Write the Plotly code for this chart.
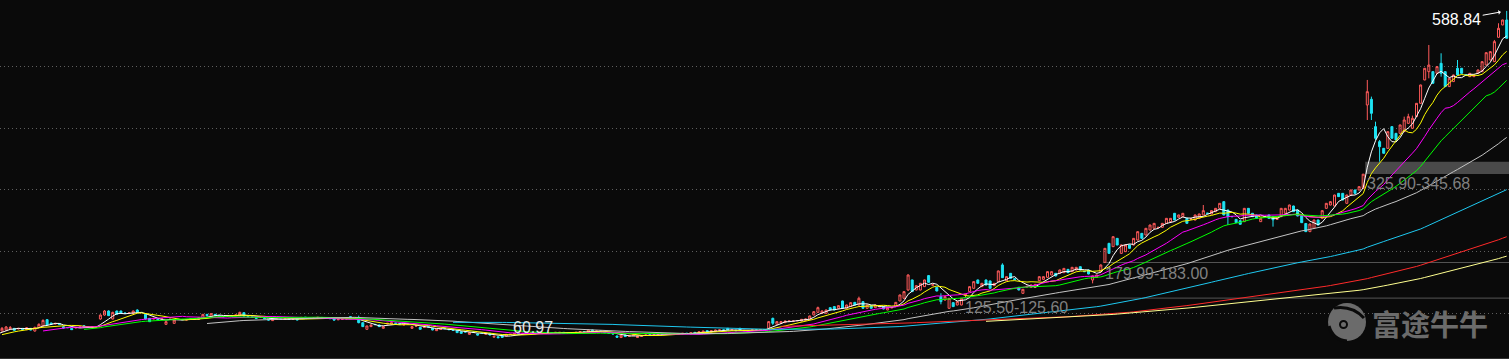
import pandas as pd
import plotly.graph_objects as go

# ---------------- data (prices) ----------------
PRE_CLOSE = [60.0, 62.0, 63.0, 65.0, 64.0, 66.0, 68.0, 70.0, 72.0]

OPEN = [
    72.5, 74.1, 76.3, 76.8, 75.8, 76.8, 74.7, 76.8, 72.5, 78.4,
    80.6, 90.8, 85.4, 83.8, 84.4, 79.5, 78.4, 76.8, 77.4, 78.4,
    81.1, 79.0, 77.9, 79.0, 91.9, 98.3, 104.8, 91.9, 104.8, 104.8,
    101.6, 101.0, 101.0, 106.4, 102.6, 99.4, 93.0, 91.9, 91.9, 91.7,
    83.3, 91.3, 84.9, 91.3, 91.3, 90.3, 91.9, 91.9, 91.3, 93.0,
    99.4, 95.1, 99.4, 97.3, 96.2, 97.3, 96.2, 97.8, 97.3, 102.1,
    96.2, 95.1, 94.0, 94.4, 93.5, 90.8, 89.3, 91.2, 91.4, 91.8,
    91.5, 91.4, 92.5, 92.5, 94.6, 94.0, 93.6, 93.8, 94.4, 93.4,
    92.8, 91.9, 90.6, 91.5, 92.0, 95.7, 94.0, 93.0, 86.0, 75.3,
    79.6, 83.3, 82.3, 76.9, 83.9, 83.9, 85.2, 84.2, 82.3, 83.3,
    76.9, 80.5, 78.5, 78.3, 79.6, 76.9, 73.1, 75.1, 76.9, 75.3,
    74.2, 73.1, 71.5, 71.5, 67.2, 71.0, 67.8, 69.0, 67.2, 68.8,
    62.6, 63.2, 64.5, 64.5, 67.0, 67.8, 68.8, 68.3, 69.4, 68.8,
    68.9, 68.8, 69.4, 69.0, 69.9, 69.9, 68.8, 70.4, 69.0, 69.9,
    69.8, 69.9, 71.5, 71.0, 74.2, 71.8, 72.6, 71.5, 69.5, 68.5,
    64.5, 62.0, 66.1, 64.0, 65.5, 62.0, 64.0, 65.6, 66.1, 66.0,
    66.6, 67.2, 67.1, 67.3, 67.2, 67.4, 68.0, 68.8, 67.8, 70.4,
    68.8, 69.9, 73.1, 71.0, 71.5, 74.0, 74.2, 76.9, 74.0, 73.8,
    76.9, 73.6, 73.0, 74.0, 74.2, 74.2, 74.8, 76.9, 93.0, 83.4,
    85.0, 86.0, 88.5, 88.2, 89.1, 88.7, 89.8, 91.4, 98.4, 102.7,
    101.1, 101.1, 110.2, 111.9, 109.2, 121.0, 109.2, 111.9, 118.8, 114.5,
    119.9, 109.2, 113.5, 110.2, 111.7, 111.9, 106.5, 110.0, 111.9, 121.0,
    125.3, 138.7, 154.9, 138.7, 138.7, 144.1, 161.9, 146.5, 143.0, 128.0,
    122.6, 109.2, 118.3, 114.5, 114.5, 130.7, 136.1, 141.4, 154.9, 144.1,
    154.9, 153.3, 145.7, 152.2, 179.1, 153.7, 165.6, 157.0, 143.0, 133.3,
    143.5, 143.0, 143.0, 153.7, 155.9, 159.1, 162.9, 165.6, 165.6, 166.6,
    172.0, 168.3, 171.0, 176.3, 168.5, 171.0, 154.8, 159.1, 168.3, 183.4,
    214.0, 208.6, 222.0, 197.8, 200.5, 211.3, 211.3, 219.3, 230.1, 227.4,
    235.5, 238.2, 239.6, 239.8, 246.2, 248.9, 262.4, 255.9, 257.0, 254.3,
    253.0, 251.6, 254.3, 259.7, 262.5, 261.3, 265.0, 270.4, 281.2, 267.7,
    257.2, 252.7, 250.5, 248.9, 270.4, 262.4, 259.7, 248.9, 257.2, 259.7,
    257.0, 252.5, 257.0, 262.4, 267.7, 274.2, 267.7, 258.1, 246.0, 232.8,
    238.2, 251.6, 254.3, 270.4, 275.8, 274.2, 294.6, 294.6, 278.5, 291.9,
    300.0, 300.0, 302.7, 437.1, 446.3, 402.2, 378.0, 367.2, 367.2, 402.2,
    391.4, 391.4, 394.1, 407.5, 399.5, 418.3, 439.8, 477.5, 490.9, 490.9,
    488.2, 504.3, 490.9, 466.7, 474.8, 496.3, 496.3, 485.7, 482.8, 482.8,
    488.2, 490.9, 501.6, 509.7, 507.0, 546.3, 566.2, 574.2,
]

HIGH = [
    79.0, 80.6, 80.6, 77.4, 77.4, 77.4, 79.0, 77.4, 79.5, 84.9,
    91.3, 91.9, 86.0, 85.4, 84.9, 80.6, 78.9, 77.3, 78.9, 79.5,
    81.6, 79.5, 79.5, 80.0, 99.4, 106.4, 105.9, 103.7, 105.3, 105.3,
    102.1, 102.1, 105.3, 107.5, 103.1, 100.5, 93.5, 93.5, 92.4, 92.5,
    88.1, 92.0, 90.8, 91.8, 91.8, 91.3, 92.4, 92.9, 94.5, 100.0,
    100.0, 101.6, 99.9, 97.8, 96.7, 97.9, 97.2, 98.8, 103.7, 102.6,
    96.7, 95.6, 94.5, 95.1, 93.9, 91.2, 91.9, 91.9, 91.9, 92.4,
    91.9, 92.0, 93.0, 95.1, 95.1, 94.5, 94.2, 95.1, 94.9, 93.9,
    93.3, 92.4, 91.9, 92.4, 93.0, 96.2, 94.6, 97.3, 86.5, 81.2,
    82.8, 83.8, 82.8, 80.1, 85.5, 86.5, 85.5, 84.4, 83.3, 84.4,
    80.1, 81.2, 79.0, 79.0, 80.1, 77.4, 75.8, 75.8, 77.4, 75.8,
    74.7, 73.6, 72.0, 72.0, 70.4, 71.5, 68.3, 69.3, 69.3, 69.3,
    64.6, 63.8, 65.0, 67.7, 67.7, 69.3, 69.3, 69.3, 70.4, 69.9,
    69.3, 69.9, 69.9, 70.4, 70.4, 70.9, 70.9, 70.9, 70.4, 70.4,
    70.9, 72.0, 72.0, 74.7, 74.7, 73.1, 73.1, 72.0, 70.0, 69.0,
    65.0, 66.3, 66.6, 65.0, 66.6, 64.3, 65.0, 66.6, 66.6, 66.7,
    67.7, 67.7, 67.8, 67.8, 67.8, 68.3, 69.3, 69.3, 70.4, 70.9,
    72.0, 73.1, 73.6, 73.6, 74.7, 74.7, 74.7, 77.4, 74.7, 74.3,
    77.4, 74.1, 73.5, 74.7, 74.7, 75.3, 75.3, 88.7, 94.1, 88.2,
    88.2, 89.2, 89.2, 89.2, 89.8, 91.9, 92.5, 97.3, 104.3, 111.9,
    105.4, 107.0, 110.7, 112.4, 114.0, 121.5, 115.0, 118.8, 119.3, 128.0,
    120.4, 115.0, 114.0, 115.0, 112.5, 112.4, 110.7, 110.7, 119.3, 131.2,
    136.6, 164.0, 155.4, 146.2, 150.0, 155.4, 162.9, 147.5, 143.5, 133.4,
    128.5, 125.8, 118.8, 120.4, 125.5, 132.3, 144.6, 152.7, 155.4, 150.0,
    155.4, 153.8, 150.0, 170.0, 181.8, 160.7, 166.1, 157.5, 143.5, 140.3,
    145.1, 147.3, 148.3, 160.7, 160.7, 168.8, 168.8, 166.1, 171.5, 174.1,
    172.5, 175.8, 175.8, 176.8, 168.8, 171.5, 161.8, 163.4, 179.99, 206.4,
    214.5, 225.2, 222.5, 211.8, 211.8, 211.8, 222.5, 233.3, 230.6, 238.7,
    244.0, 246.7, 240.3, 246.7, 254.8, 254.8, 262.9, 260.2, 262.9, 254.8,
    253.7, 260.2, 261.8, 275.8, 262.9, 267.2, 270.9, 279.0, 281.7, 268.2,
    257.5, 253.2, 251.0, 270.9, 270.9, 262.9, 260.2, 254.8, 257.5, 260.2,
    258.0, 254.8, 270.9, 270.9, 276.3, 274.7, 268.2, 258.6, 246.5, 245.7,
    252.1, 252.1, 267.2, 279.0, 281.7, 292.4, 295.1, 295.1, 292.4, 300.5,
    300.5, 305.9, 325.9, 477.5, 450.6, 410.2, 380.7, 367.7, 394.6, 402.7,
    391.9, 405.4, 418.3, 423.0, 420.0, 440.3, 469.9, 496.8, 533.9, 491.4,
    499.5, 520.5, 491.4, 480.6, 486.0, 509.7, 496.8, 486.0, 488.7, 486.0,
    494.1, 507.5, 522.0, 523.7, 542.0, 568.9, 574.7, 588.84,
]

LOW = [
    71.5, 73.6, 75.2, 72.5, 75.2, 74.7, 74.1, 73.6, 71.5, 77.9,
    80.1, 81.7, 83.3, 83.3, 82.8, 76.3, 77.4, 74.2, 76.9, 77.9,
    78.5, 77.9, 77.4, 78.5, 90.8, 97.3, 96.7, 91.3, 98.9, 100.5,
    100.5, 100.5, 100.5, 102.1, 101.9, 90.8, 87.1, 91.4, 90.8, 91.2,
    82.8, 90.8, 84.4, 90.8, 90.3, 89.8, 91.3, 91.4, 90.8, 92.4,
    96.7, 94.6, 96.8, 96.7, 95.1, 96.8, 95.7, 97.3, 96.8, 96.2,
    95.1, 94.1, 92.5, 93.9, 92.5, 89.8, 88.8, 90.8, 90.8, 91.3,
    90.9, 90.9, 89.8, 92.0, 94.0, 93.1, 93.1, 93.3, 93.1, 92.5,
    92.0, 89.8, 90.1, 91.0, 91.5, 93.6, 93.5, 85.0, 79.1, 74.8,
    79.1, 82.3, 79.1, 76.4, 83.4, 83.4, 84.5, 83.4, 81.8, 82.8,
    76.4, 80.0, 74.8, 77.8, 78.5, 73.7, 72.6, 74.6, 75.9, 74.2,
    73.2, 69.4, 68.3, 70.5, 66.7, 69.9, 65.6, 68.3, 66.7, 65.6,
    62.0, 60.97, 61.9, 64.0, 66.5, 67.3, 67.3, 67.8, 68.9, 68.3,
    68.3, 68.3, 68.3, 68.5, 69.3, 69.4, 68.3, 68.3, 68.5, 69.3,
    69.3, 69.4, 70.9, 70.5, 71.0, 71.3, 71.6, 69.4, 68.3, 67.3,
    61.9, 61.3, 63.0, 63.5, 65.0, 61.6, 63.5, 65.1, 65.5, 65.5,
    66.1, 66.6, 66.6, 66.7, 66.7, 66.9, 67.5, 68.2, 67.3, 68.9,
    68.3, 69.4, 69.9, 70.5, 71.0, 73.5, 73.6, 73.7, 73.5, 72.6,
    73.7, 72.6, 72.1, 73.5, 73.6, 73.7, 73.7, 75.8, 82.3, 82.9,
    84.5, 85.5, 88.0, 87.7, 88.6, 88.2, 89.3, 90.9, 97.9, 102.2,
    100.6, 100.6, 106.0, 106.0, 108.7, 108.7, 108.7, 111.4, 114.0, 114.0,
    108.7, 108.7, 108.7, 109.7, 111.2, 107.6, 106.0, 109.5, 111.4, 120.5,
    124.8, 137.1, 135.6, 138.2, 138.2, 143.6, 150.6, 146.0, 136.6, 115.6,
    121.5, 108.7, 111.4, 114.0, 114.0, 125.6, 135.6, 140.9, 149.0, 143.6,
    146.3, 140.9, 145.2, 151.7, 158.1, 153.2, 157.0, 154.9, 138.2, 132.8,
    143.0, 142.5, 142.5, 153.2, 155.4, 158.6, 162.4, 160.8, 165.1, 166.1,
    166.1, 167.8, 170.5, 170.5, 167.8, 164.0, 149.4, 158.6, 167.8, 183.0,
    197.3, 208.1, 210.8, 197.3, 200.0, 205.4, 210.8, 218.8, 221.5, 226.9,
    235.0, 237.7, 239.1, 239.3, 245.7, 248.4, 251.1, 255.4, 256.5, 245.7,
    252.5, 251.1, 253.8, 259.2, 261.9, 260.8, 264.5, 269.9, 259.2, 243.5,
    256.5, 246.8, 244.1, 248.4, 261.9, 256.5, 253.8, 248.4, 256.5, 253.8,
    240.9, 252.0, 256.5, 261.9, 267.2, 264.6, 257.6, 246.8, 232.3, 232.3,
    237.7, 243.0, 253.8, 269.9, 275.3, 273.7, 288.8, 283.4, 278.0, 291.4,
    294.1, 299.5, 302.2, 412.9, 412.9, 380.7, 345.68, 358.7, 366.7, 382.9,
    380.2, 390.9, 393.6, 407.0, 399.0, 417.8, 439.3, 477.0, 480.1, 471.6,
    487.7, 482.8, 466.2, 466.2, 474.3, 485.0, 487.7, 485.0, 482.3, 482.3,
    487.7, 490.4, 501.1, 509.2, 506.5, 545.8, 565.7, 544.2,
]

CLOSE = [
    76.8, 79.0, 77.9, 73.6, 76.8, 75.2, 77.9, 74.1, 78.4, 83.3,
    89.7, 82.2, 83.8, 84.9, 83.3, 77.4, 77.9, 74.7, 78.4, 79.0,
    79.0, 78.4, 79.0, 79.5, 98.3, 104.8, 97.3, 102.6, 99.4, 101.0,
    101.0, 101.6, 104.8, 102.6, 102.4, 91.9, 87.6, 93.0, 91.3, 92.0,
    87.6, 91.5, 90.3, 91.2, 90.8, 90.8, 91.8, 92.4, 94.0, 99.4,
    97.3, 100.5, 97.3, 97.2, 95.6, 97.4, 96.7, 98.3, 102.6, 96.7,
    95.6, 94.6, 93.0, 94.6, 93.0, 90.3, 91.4, 91.4, 91.3, 91.9,
    91.4, 91.5, 90.3, 94.6, 94.5, 93.6, 93.7, 94.6, 93.6, 93.0,
    92.5, 90.3, 91.4, 91.9, 92.5, 94.1, 94.1, 86.0, 79.6, 80.7,
    82.3, 82.8, 79.6, 79.6, 85.0, 86.0, 85.0, 83.9, 82.8, 83.9,
    79.6, 80.7, 75.3, 78.5, 79.0, 74.2, 75.3, 75.3, 76.4, 74.7,
    73.7, 69.9, 68.8, 71.0, 69.9, 70.4, 66.1, 68.8, 68.8, 66.1,
    64.0, 61.8, 62.4, 67.2, 67.2, 68.8, 67.8, 68.8, 69.9, 69.4,
    68.8, 69.4, 68.8, 69.9, 69.8, 70.4, 70.4, 68.8, 69.9, 69.8,
    70.4, 71.5, 71.4, 74.2, 71.5, 72.6, 72.1, 69.9, 68.8, 67.8,
    62.4, 65.8, 63.5, 64.5, 66.1, 63.8, 64.5, 66.1, 66.0, 66.2,
    67.2, 67.1, 67.3, 67.2, 67.3, 67.8, 68.8, 68.7, 69.9, 69.4,
    71.5, 72.6, 70.4, 73.1, 74.2, 74.2, 74.1, 74.2, 74.2, 73.1,
    74.2, 73.1, 72.6, 74.2, 74.1, 74.8, 74.2, 87.7, 85.0, 87.7,
    87.7, 88.7, 88.7, 88.7, 89.3, 91.4, 92.0, 96.8, 103.8, 110.2,
    104.9, 106.5, 106.5, 106.5, 113.5, 109.2, 114.5, 118.3, 114.5, 125.3,
    109.2, 114.5, 109.2, 114.5, 112.0, 108.1, 110.2, 110.2, 118.8, 130.7,
    136.1, 162.9, 136.1, 145.7, 149.5, 154.9, 151.1, 147.0, 137.1, 119.9,
    128.0, 125.3, 111.9, 119.9, 125.3, 131.8, 144.1, 152.2, 149.5, 149.5,
    146.8, 141.4, 149.5, 169.4, 158.6, 160.2, 157.5, 155.4, 138.7, 139.8,
    144.6, 146.8, 147.8, 160.2, 160.2, 168.3, 168.3, 161.3, 171.0, 173.6,
    166.6, 175.3, 175.3, 171.0, 168.3, 164.5, 161.3, 162.9, 179.0, 205.9,
    197.8, 224.7, 211.3, 211.3, 211.3, 205.9, 222.0, 232.8, 222.0, 238.2,
    243.5, 246.2, 239.8, 246.2, 254.3, 254.3, 251.6, 259.7, 262.4, 246.2,
    253.2, 259.7, 261.3, 266.7, 262.4, 266.7, 270.4, 278.5, 259.7, 257.0,
    257.0, 247.3, 244.6, 270.4, 262.4, 257.0, 254.3, 254.3, 257.0, 254.3,
    252.0, 254.3, 270.4, 270.4, 275.8, 265.1, 258.1, 247.3, 232.8, 245.2,
    251.6, 243.5, 266.7, 278.5, 281.2, 291.9, 289.3, 283.9, 291.9, 300.0,
    294.6, 305.4, 325.5, 458.6, 423.7, 383.4, 369.9, 359.2, 394.1, 383.4,
    380.7, 404.9, 412.9, 418.3, 415.6, 439.8, 469.4, 496.3, 501.6, 472.1,
    499.0, 488.2, 466.7, 480.1, 485.5, 485.5, 488.2, 485.5, 488.2, 485.5,
    493.6, 507.0, 521.5, 523.2, 539.3, 560.8, 574.2, 544.7,
]

MA_WINDOWS = [5, 10, 20, 30, 60, 120, 200, 250]
MA_COLORS = ["#ffffff", "#ffff00", "#ff00ff", "#00ff00",
             "#c4c4c4", "#1ec8f0", "#ff2a2a", "#ffff90"]

GAP_START = [234, 268, 332]
GAP_LOW = [125.50, 179.99, 325.90]
GAP_HIGH = [125.60, 183.00, 345.68]
GRID_PRICES = [100, 200, 300, 400, 500]
WATERMARK = "富途牛牛"

# ---------------- figure ----------------
W, H = 1509, 359
BG = "#0a0a0a"
n = len(CLOSE)
npre = len(PRE_CLOSE)
idx = list(range(n))
all_x = list(range(-npre, n))
closes = pd.Series(PRE_CLOSE + CLOSE, dtype=float)

X_RANGE = [-0.49, n - 0.44]
Y_RANGE = [27.4, 606.45]
PX_PER_UNIT = H / (Y_RANGE[1] - Y_RANGE[0])

fig = go.Figure()

for w, c in zip(MA_WINDOWS, MA_COLORS):
    ma = closes.rolling(w).mean()
    fig.add_trace(go.Scatter(x=all_x, y=ma, mode="lines",
                             line=dict(color=c, width=1), hoverinfo="skip"))

fig.add_trace(go.Candlestick(
    x=idx, open=OPEN, high=HIGH, low=LOW, close=CLOSE,
    increasing=dict(line=dict(color="#ff5a5a", width=1), fillcolor="rgba(0,0,0,0)"),
    decreasing=dict(line=dict(color="#1ee4f4", width=1), fillcolor="#1ee4f4"),
    whiskerwidth=0, hoverinfo="skip"))

shapes = []
annotations = []

# gap zones: wide zones as a filled band, narrow ones as a 1px line
for s, lo, hi in zip(GAP_START, GAP_LOW, GAP_HIGH):
    if (hi - lo) * PX_PER_UNIT >= 3:
        shapes.append(dict(type="rect", xref="x", yref="y", x0=s + 0.5, x1=X_RANGE[1] + 1,
                           y0=lo, y1=hi, fillcolor="#4a4a4a",
                           line=dict(width=0), layer="below"))
    else:
        shapes.append(dict(type="line", xref="x", yref="y", x0=s + 0.5, x1=X_RANGE[1] + 1,
                           y0=hi, y1=hi, line=dict(color="#555555", width=1),
                           layer="below"))
    annotations.append(dict(x=s + 0.5, y=lo, xref="x", yref="y",
                            text=f"{lo:.2f}-{hi:.2f}", showarrow=False,
                            xanchor="left", yanchor="top", yshift=1,
                            font=dict(family="Liberation Sans", size=16, color="#808080")))

# high / low labels
hi_i = max(range(n), key=lambda i: HIGH[i])
lo_i = min(range(n), key=lambda i: LOW[i])
annotations.append(dict(x=hi_i, y=HIGH[hi_i], xref="x", yref="y",
                        text=f"{HIGH[hi_i]:.2f}", showarrow=True,
                        ax=-50, ay=9, arrowhead=1, arrowsize=0.8, arrowwidth=1,
                        arrowcolor="#ffffff", standoff=6,
                        font=dict(family="Liberation Sans", size=16, color="#ffffff")))
annotations.append(dict(x=lo_i, y=LOW[lo_i], xref="x", yref="y",
                        text=f"{LOW[lo_i]:.2f}", showarrow=False,
                        xanchor="left", yanchor="middle", xshift=13, yshift=11,
                        font=dict(family="Liberation Sans", size=16, color="#e8e8e8")))


# watermark
def px(v):
    return v / W


def py(v):
    return 1 - v / H


annotations.append(dict(x=px(1370), y=py(323), xref="paper", yref="paper",
                        text=WATERMARK, showarrow=False, xanchor="left", yanchor="middle",
                        font=dict(family="Noto Sans CJK SC", size=29, color="#6b6b6b",
                                  weight="bold")))
shapes.append(dict(type="circle", xref="paper", yref="paper",
                   x0=px(1328), x1=px(1366), y0=py(341), y1=py(303),
                   fillcolor="#6b6b6b", line=dict(width=0)))
shapes.append(dict(type="path", xref="paper", yref="paper",
                   path=f"M {px(1334)},{py(308)} Q {px(1352)},{py(305)} {px(1364)},{py(318)}",
                   line=dict(color=BG, width=3)))
shapes.append(dict(type="path", xref="paper", yref="paper",
                   path=f"M {px(1329)},{py(326)} Q {px(1333)},{py(340)} {px(1347)},{py(341)}",
                   line=dict(color=BG, width=3)))
shapes.append(dict(type="circle", xref="paper", yref="paper",
                   x0=px(1340), x1=px(1347), y0=py(328), y1=py(321),
                   fillcolor="#6b6b6b", line=dict(color=BG, width=2)))

# bottom border
shapes.append(dict(type="line", xref="paper", yref="paper", x0=0, x1=1,
                   y0=py(358.5), y1=py(358.5), line=dict(color="#333333", width=1)))

fig.update_layout(
    width=W, height=H,
    margin=dict(l=0, r=0, t=0, b=0),
    paper_bgcolor=BG, plot_bgcolor=BG,
    showlegend=False,
    shapes=shapes, annotations=annotations,
    xaxis=dict(range=X_RANGE, showgrid=False, zeroline=False, showticklabels=False,
               showline=False, ticks="", rangeslider=dict(visible=False)),
    yaxis=dict(range=Y_RANGE, tickvals=GRID_PRICES, showticklabels=False, ticks="",
               showgrid=True, gridcolor="#5e5e5e", griddash="1px,3px", gridwidth=1,
               zeroline=False, showline=False),
)

fig.write_html("out.html")
